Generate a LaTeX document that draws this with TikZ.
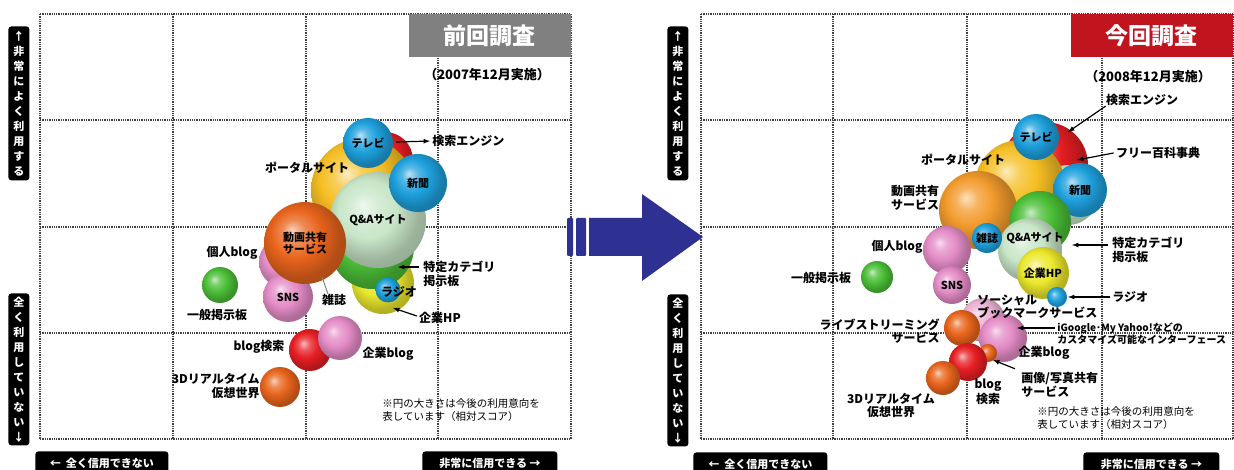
\documentclass[tikz,border=0pt]{standalone}
\usepackage{fontspec}
\setmainfont{Noto Sans CJK JP}
\usetikzlibrary{arrows, shapes, positioning}

\definecolor{ballblue}{RGB}{30,160,220}
\definecolor{ballred}{RGB}{230,30,35}
\definecolor{ballgold}{RGB}{245,190,35}
\definecolor{ballyellow}{RGB}{235,232,45}
\definecolor{ballmint}{RGB}{200,230,200}
\definecolor{ballgreen}{RGB}{75,190,55}
\definecolor{ballorange}{RGB}{232,100,28}
\definecolor{ballamber}{RGB}{242,155,45}
\definecolor{ballpink}{RGB}{228,140,198}
\definecolor{balllpink}{RGB}{235,178,212}
\definecolor{titlegray}{RGB}{128,128,128}
\definecolor{titlered}{RGB}{192,20,30}
\definecolor{arrowblue}{RGB}{46,49,146}
\colorlet{bubblecol}{ballblue}

\pgfdeclareradialshading[bubblecol]{bubbleshade}{\pgfpoint{-8bp}{8bp}}{%
  color(0bp)=(bubblecol!30!white); color(7bp)=(bubblecol!75!white);
  color(15bp)=(bubblecol); color(25bp)=(bubblecol!78!black);
  color(50bp)=(bubblecol!60!black)}

\begin{document}
\begin{tikzpicture}[x=1pt, y=-1pt, thick,
    bubble/.style={circle, inner sep=0pt,
      /utils/exec={\colorlet{bubblecol}{#1}}, shading=bubbleshade,
      font=\fontsize{11}{12}\selectfont\bfseries, align=center},
    lbl/.style={inner sep=0pt, align=center,
      font=\fontsize{12}{14.5}\selectfont\bfseries},
    note/.style={inner sep=0pt, align=left,
      font=\fontsize{10.5}{13}\selectfont},
    axis box/.style={fill=black, text=white, rounded corners=3pt,
      inner sep=0pt, align=center,
      font=\fontsize{11}{15}\selectfont\bfseries},
    title box/.style={text=white, inner sep=0pt, anchor=north east,
      minimum width=162, minimum height=43,
      font=\fontsize{23}{23}\selectfont\bfseries},
    grid line/.style={densely dotted, line width=1.3pt, black!75},
    pointer/.style={-latex, line width=1.2pt}]

  \useasboundingbox (0,0) rectangle (1234,470);

  % grids
  \foreach \x in {40,173,306,438,571}
    \draw[grid line] (\x,14) -- (\x,439);
  \foreach \x in {701,833,967,1102,1233}
    \draw[grid line] (\x,14) -- (\x,439);
  \foreach \y in {14,120,227,333,439} {
    \draw[grid line] (40,\y) -- (571,\y);
    \draw[grid line] (701,\y) -- (1233,\y);
  }

  % axis labels
  \node[axis box, minimum width=21, minimum height=154, anchor=north west]
    (yhi1) at (8,26) {↑\\非\\常\\に\\よ\\く\\利\\用\\す\\る};
  \node[axis box, minimum width=21, minimum height=152, anchor=north west]
    (ylo1) at (8,293) {全\\く\\利\\用\\し\\て\\い\\な\\い\\↓};
  \node[axis box, minimum width=133, minimum height=24, anchor=north west]
    (xlo1) at (35,451) {←\ \ 全く信用できない};
  \node[axis box, minimum width=135, minimum height=24, anchor=north west]
    (xhi1) at (422,451) {非常に信用できる →};
  \node[axis box, minimum width=21, minimum height=154, anchor=north west]
    (yhi2) at (667,26) {↑\\非\\常\\に\\よ\\く\\利\\用\\す\\る};
  \node[axis box, minimum width=21, minimum height=152, anchor=north west]
    (ylo2) at (667,294) {全\\く\\利\\用\\し\\て\\い\\な\\い\\↓};
  \node[axis box, minimum width=134, minimum height=24, anchor=north west]
    (xlo2) at (693,452) {←\ \ 全く信用できない};
  \node[axis box, minimum width=136, minimum height=24, anchor=north west]
    (xhi2) at (1083,452) {非常に信用できる →};

  % titles
  \node[title box, fill=titlegray] (ttl1) at (571,14) {前回調査};
  \node[lbl, font=\fontsize{13}{14}\selectfont\bfseries] (sub1) at (487,75)
    {（2007年12月実施）};
  \node[title box, fill=titlered] (ttl2) at (1233,14) {今回調査};
  \node[lbl, font=\fontsize{13}{14}\selectfont\bfseries] (sub2) at (1148,77)
    {（2008年12月実施）};

  % big arrow
  \fill[arrowblue, rounded corners=1pt] (567,218) rectangle (573,256);
  \fill[arrowblue, rounded corners=1pt] (576,218) rectangle (586,256);
  \fill[arrowblue] (589,218) -- (642,218) -- (642,194) -- (703,237)
    -- (642,281) -- (642,256) -- (589,256) -- cycle;

  % ---- previous survey ----
  \node[bubble=ballred, minimum size=56] (srch1) at (385,160) {};
  \node[bubble=ballgold, minimum size=104] (portal1) at (363,190) {};
  \node[bubble=ballyellow, minimum size=62] (hp1) at (383,283) {};
  \node[bubble=ballgreen, minimum size=84] (cat1) at (372,247) {};
  \node[bubble=ballmint, minimum size=96] (qa1) at (378,220) {Q\&Aサイト};
  \node[bubble=ballblue, minimum size=50] (tv1) at (368,143) {テレビ};
  \node[bubble=ballblue, minimum size=58] (news1) at (418,183) {新聞};
  \node[bubble=ballpink, minimum size=52] (pblog1) at (285,262) {};
  \node[bubble=ballpink, minimum size=50] (sns1) at (288,297) {SNS};
  \node[bubble=ballorange, minimum size=82] (video1) at (305,243)
    {動画共有\\サービス};
  \node[bubble=ballblue, minimum size=25] (radio1) at (388,290) {};
  \node[bubble=ballgreen, minimum size=36] (board1) at (220,285) {};
  \node[bubble=ballred, minimum size=42] (bsrch1) at (310,350) {};
  \node[bubble=ballpink, minimum size=44] (cblog1) at (340,338) {};
  \node[bubble=ballorange, minimum size=40] (vr1) at (280,387) {};

  \node[lbl] (lportal1) at (307,168) {ポータルサイト};
  \node[lbl, anchor=west] (lsrch1) at (432,141) {検索エンジン};
  \node[lbl] (lradio1) at (399,292) {ラジオ};
  \node[lbl, anchor=west, align=left] (lcat1) at (423,274)
    {特定カテゴリ\\掲示板};
  \node[lbl] (lhp1) at (440,318) {企業HP};
  \node[lbl] (lmag1) at (334,300) {雑誌};
  \node[lbl] (lpblog1) at (232,253) {個人blog};
  \node[lbl] (lboard1) at (217,315) {一般掲示板};
  \node[lbl] (lbsrch1) at (259,347) {blog検索};
  \node[lbl] (lcblog1) at (388,354) {企業blog};
  \node[lbl, anchor=east, align=right] (lvr1) at (260,386)
    {3Dリアルタイム\\仮想世界};
  \node[note, anchor=north west] (note1) at (382,398)
    {※円の大きさは今後の利用意向を\\表しています（相対スコア）};

  \coordinate (srchpt1) at (396,142);
  \coordinate (catpt1) at (398,267);
  \coordinate (hppt1) at (393,308);
  \coordinate (magpt1) at (322,277);
  \draw[pointer, shorten >=2pt] (srchpt1) -- (lsrch1.west);
  \draw[pointer] ([xshift=-4pt,yshift=7pt]lcat1.west) -- (catpt1);
  \draw[pointer] ([xshift=-2pt,yshift=2pt]lhp1.west) -- (hppt1);
  \draw[gray, line width=1pt] ([xshift=-6pt]lmag1.north) -- (magpt1);

  % ---- current survey ----
  \node[bubble=ballred, minimum size=86] (srch2) at (1045,165) {};
  \node[bubble=ballmint, minimum size=60] (wiki2) at (1068,195) {};
  \node[bubble=ballgold, minimum size=90] (portal2) at (1020,185) {};
  \node[bubble=ballblue, minimum size=46] (tv2) at (1036,137) {テレビ};
  \node[bubble=ballblue, minimum size=54] (news2) at (1080,190) {新聞};
  \node[bubble=ballamber, minimum size=78] (video2) at (978,210) {};
  \node[bubble=ballgreen, minimum size=62] (cat2) at (1040,222) {};
  \node[bubble=ballmint, minimum size=64] (qa2) at (1030,250) {};
  \node[bubble=ballblue, minimum size=30] (mag2) at (987,238) {雑誌};
  \node[bubble=ballpink, minimum size=48] (pblog2) at (947,250) {};
  \node[bubble=ballpink, minimum size=38] (sns2) at (952,285) {SNS};
  \node[bubble=ballyellow, minimum size=52] (hp2) at (1043,273) {企業HP};
  \node[bubble=ballblue, minimum size=20] (radio2) at (1057,297) {};
  \node[bubble=ballgreen, minimum size=32] (board2) at (877,277) {};
  \node[bubble=balllpink, minimum size=44] (sbm2) at (983,320) {};
  \node[bubble=ballpink, minimum size=48] (igoogle2) at (1003,338) {};
  \node[bubble=ballorange, minimum size=36] (live2) at (962,328) {};
  \node[bubble=ballorange, minimum size=18] (photo2) at (988,353) {};
  \node[bubble=ballred, minimum size=38] (bsrch2) at (968,362) {};
  \node[bubble=ballorange, minimum size=34] (vr2) at (943,378) {};

  \node[lbl, font=\fontsize{11}{12}\selectfont\bfseries] (lqa2) at (1035,238)
    {Q\&Aサイト};
  \node[lbl] (lsrch2) at (1142,100) {検索エンジン};
  \node[lbl] (lwiki2) at (1158,153) {フリー百科事典};
  \node[lbl] (lportal2) at (963,160) {ポータルサイト};
  \node[lbl] (lvideo2) at (915,198) {動画共有\\サービス};
  \node[lbl] (lpblog2) at (897,247) {個人blog};
  \node[lbl] (lboard2) at (821,278) {一般掲示板};
  \node[lbl, anchor=west, align=left] (lcat2) at (1112,250)
    {特定カテゴリ\\掲示板};
  \node[lbl, anchor=west] (lradio2) at (1112,297) {ラジオ};
  \node[lbl, anchor=north west, align=left,
    font=\fontsize{12}{13}\selectfont\bfseries] (lsbm2) at (977,294)
    {ソーシャル\\ブックマークサービス};
  \node[lbl, anchor=west, align=left,
    font=\fontsize{10}{12}\selectfont\bfseries] (ligoogle2) at (1057,334)
    {iGoogle･My Yahoo!などの\\カスタマイズ可能なインターフェース};
  \node[lbl] (lcblog2) at (1044,353) {企業blog};
  \node[lbl, anchor=west, align=left] (lphoto2) at (1021,385)
    {画像/写真共有\\サービス};
  \node[lbl] (lbsrch2) at (988,392) {blog\\検索};
  \node[lbl, anchor=east, align=right,
    font=\fontsize{12}{13}\selectfont\bfseries] (llive2) at (940,331)
    {ライブストリーミング\\サービス};
  \node[lbl, font=\fontsize{12}{13}\selectfont\bfseries] (lvr2) at (891,406)
    {3Dリアルタイム\\仮想世界};
  \node[note, anchor=north west] (note2) at (1037,406)
    {※円の大きさは今後の利用意向を\\表しています（相対スコア）};

  \coordinate (srchpt2) at (1068,132);
  \coordinate (wikipt2) at (1077,160);
  \coordinate (catpt2) at (1072,245);
  \coordinate (radiopt2) at (1068,297);
  \coordinate (igpt2) at (1017,328);
  \coordinate (photopt2) at (993,360);
  \draw[pointer] (lsrch2.south west) -- (srchpt2);
  \draw[pointer] ([xshift=-2pt]lwiki2.west) -- (wikipt2);
  \draw[pointer] ([xshift=-4pt,yshift=5pt]lcat2.west) -- (catpt2);
  \draw[pointer] ([xshift=-2pt]lradio2.west) -- (radiopt2);
  \draw[pointer] ([xshift=-2pt,yshift=6pt]ligoogle2.west) -- (igpt2);
  \draw[pointer] ([xshift=-6pt,yshift=3pt]lphoto2.north west) -- (photopt2);
\end{tikzpicture}
\end{document}
